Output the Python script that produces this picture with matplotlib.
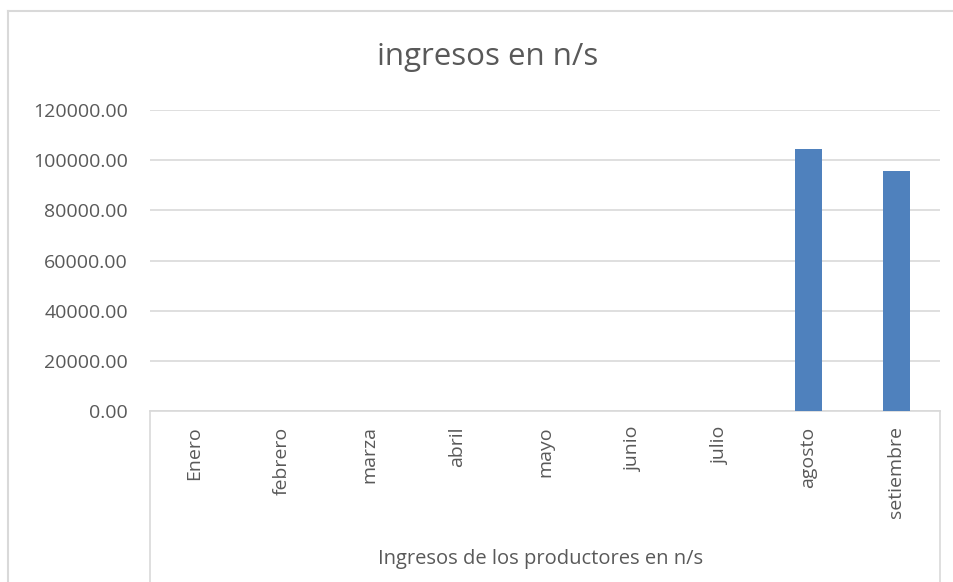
import matplotlib.pyplot as plt
from matplotlib.lines import Line2D

meses = ['Enero', 'febrero', 'marza', 'abril', 'mayo', 'junio', 'julio', 'agosto', 'setiembre']
ingresos = [0, 0, 0, 0, 0, 0, 0, 104500, 95800]
y_ticks = [0, 20000, 40000, 60000, 80000, 100000, 120000]

TXT = '#595959'
GRID = '#d9d9d9'
BAR = '#4f81bd'

plt.rcParams['font.family'] = ['Open Sans', 'DejaVu Sans']

fig = plt.figure(figsize=(9.54, 5.82), dpi=100)
ax = fig.add_axes([150 / 954, 1 - 411 / 582, 790 / 954, 301 / 582])

x = list(range(len(meses)))
ax.bar(x, ingresos, width=0.31, color=BAR, zorder=3)

ax.set_xlim(-0.5, len(meses) - 0.5)
ax.set_ylim(0, 120000)
ax.set_yticks(y_ticks)
ax.set_yticklabels(['%.2f' % v for v in y_ticks], color=TXT, fontsize=14)
ax.set_xticks(x)
ax.set_xticklabels(meses, rotation=90, color=TXT, fontsize=14, va='top')
ax.tick_params(axis='both', length=0)
ax.tick_params(axis='y', pad=16)
ax.tick_params(axis='x', pad=11)
ax.grid(axis='y', color=GRID, linewidth=1.2, zorder=0)
for s in ['top', 'right', 'left']:
    ax.spines[s].set_visible(False)
ax.spines['bottom'].set_color(GRID)
ax.spines['bottom'].set_linewidth(1.2)

fig.suptitle('ingresos en n/s', x=488 / 954, y=1 - 57 / 582,
             va='center', color=TXT, fontsize=22.5)
fig.text(541 / 954, 1 - 559 / 582, 'Ingresos de los productores en n/s',
         ha='center', va='center', color=TXT, fontsize=14.5)

# multi-level axis box lines
for xp in (150, 940):
    fig.add_artist(Line2D([xp / 954, xp / 954], [0, 1 - 411 / 582],
                          color=GRID, linewidth=1.2))

# chart area border
fig.add_artist(Line2D([8 / 954, 8 / 954], [0, 1 - 11 / 582], color=GRID, linewidth=1.5))
fig.add_artist(Line2D([8 / 954, 1], [1 - 11 / 582, 1 - 11 / 582], color=GRID, linewidth=1.5))

fig.savefig('out.png', dpi=100)
